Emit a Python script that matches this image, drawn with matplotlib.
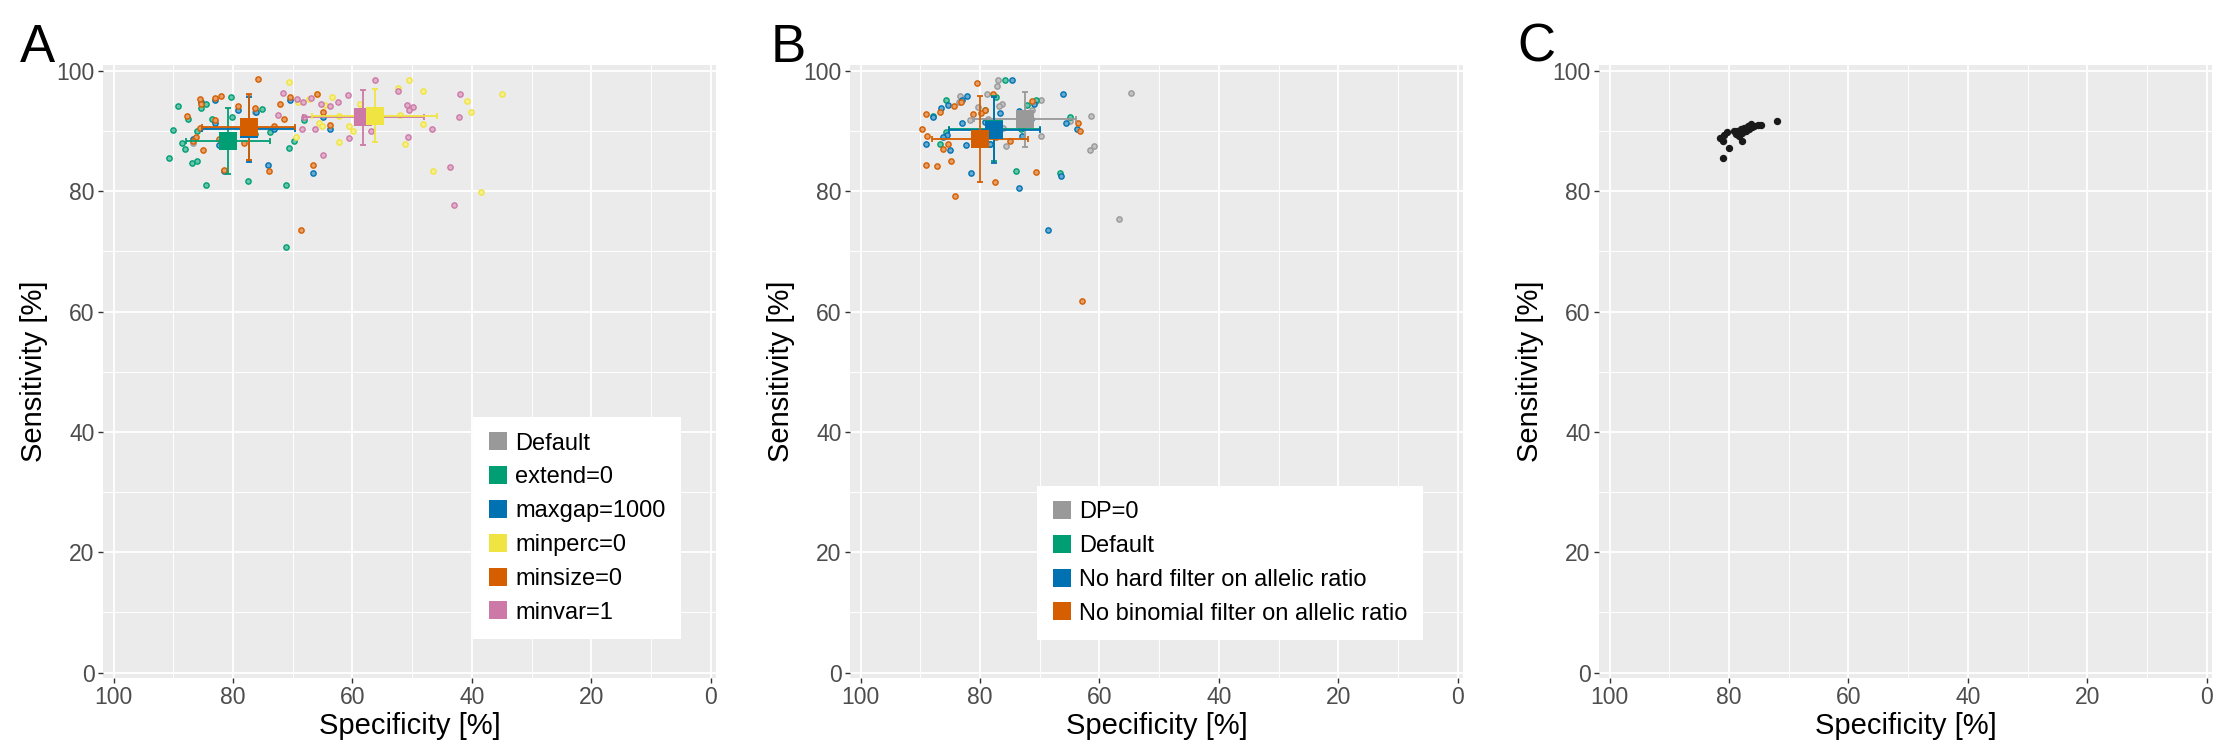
import matplotlib.pyplot as plt
from matplotlib.lines import Line2D
from matplotlib.colors import to_rgb

plt.rcParams["font.family"] = ["Liberation Sans", "DejaVu Sans"]

# ---- colours (Okabe-Ito style) ----
GREY = "#999999"
GREEN = "#009E73"
BLUE = "#0072B2"
YELLOW = "#F0E442"
ORANGE = "#D55E00"
PINK = "#CC79A7"

# ---- panel A: individual samples (specificity, sensitivity) ----
A_DEFAULT_SPEC = [86.8, 76.4]
A_DEFAULT_SENS = [88.0, 93.2]

A_EXTEND_SPEC = [89.3, 90.1, 90.7, 87.5, 88.1, 88.6, 86.9, 86.0, 86.0, 84.5, 85.4, 84.5, 83.6,
                 80.3, 80.2, 77.5, 77.4, 76.3, 75.1, 73.9, 71.2, 70.7, 69.8, 71.1, 68.2]
A_EXTEND_SENS = [94.2, 90.2, 85.6, 92.0, 87.1, 88.0, 84.7, 85.0, 90.0, 94.5, 93.9, 81.0, 92.1,
                 95.7, 92.3, 81.7, 90.5, 89.5, 93.7, 89.9, 81.0, 87.2, 88.4, 70.7, 91.8]

A_MAXGAP_SPEC = [83.1, 79.1, 76.2, 83.1, 86.8, 82.4, 81.5, 74.1, 66.6, 73.1, 70.5, 64.9, 63.8, 85.4]
A_MAXGAP_SENS = [95.2, 93.5, 93.2, 91.4, 88.7, 87.7, 83.3, 84.3, 83.0, 90.4, 95.1, 92.3, 90.4, 94.9]

A_MINPERC_SPEC = [70.6, 66.0, 63.5, 69.2, 67.3, 64.6, 58.8, 65.6, 65.1, 59.9, 60.6, 62.2, 62.2,
                  69.5, 58.0, 52.4, 50.6, 48.2, 52.0, 48.2, 51.2, 40.8, 40.2, 35.0, 46.5, 38.5]
A_MINPERC_SENS = [98.2, 96.2, 95.7, 94.9, 95.4, 94.4, 94.5, 91.4, 90.8, 90.0, 90.9, 92.6, 88.2,
                  89.0, 93.4, 97.1, 98.5, 96.7, 92.7, 91.2, 87.9, 95.0, 93.2, 96.2, 83.4, 79.9]

A_MINSIZE_SPEC = [75.8, 82.1, 83.1, 85.6, 85.4, 87.8, 83.1, 85.6, 86.3, 86.8, 85.0, 82.4, 81.5,
                  79.1, 76.3, 78.2, 73.1, 72.1, 71.5, 70.5, 66.0, 64.9, 63.8, 66.6, 74.0, 68.6]
A_MINSIZE_SENS = [98.6, 95.9, 95.5, 95.3, 94.5, 92.6, 91.8, 90.6, 89.1, 88.4, 86.9, 88.7, 83.6,
                  94.2, 93.8, 88.0, 90.9, 94.5, 92.0, 95.6, 96.2, 93.2, 91.1, 84.3, 83.4, 73.5]

A_MINVAR_SPEC = [71.6, 68.3, 69.3, 66.9, 68.4, 66.2, 72.5, 65.3, 63.7, 62.4, 60.8, 64.9, 60.6,
                 56.9, 56.2, 52.3, 50.8, 49.8, 50.5, 50.7, 46.6, 42.0, 42.2, 43.6, 43.0, 68.2]
A_MINVAR_SENS = [96.3, 94.9, 95.3, 95.5, 90.3, 90.3, 92.7, 94.5, 94.2, 94.8, 96.0, 86.1, 88.9,
                 90.0, 98.5, 96.6, 94.4, 94.0, 93.6, 89.0, 90.4, 96.2, 92.3, 84.0, 77.7, 92.4]

# panel A: group means and spread
A_GROUPS = ["Default", "extend=0", "maxgap=1000", "minperc=0", "minsize=0", "minvar=1"]
A_COLORS = [GREY, GREEN, BLUE, YELLOW, ORANGE, PINK]
A_MEAN_SPEC = [77.4, 80.9, 77.4, 56.3, 77.4, 58.2]
A_SD_SPEC = [7.8, 7.05, 7.8, 10.5, 7.8, 10.1]
A_MEAN_SENS = [90.6, 88.3, 90.3, 92.6, 90.7, 92.3]
A_SD_SENS = [5.4, 5.5, 5.4, 4.4, 5.45, 4.55]

# ---- panel B ----
B_DP0_SPEC = [77.0, 77.2, 78.8, 76.4, 76.9, 80.4, 83.3, 83.5, 81.7, 78.6, 77.8, 76.1, 79.6,
              75.7, 69.8, 70.7, 69.8, 65.0, 61.5, 61.6, 60.9, 54.7, 56.7, 71.3]
B_DP0_SENS = [98.5, 97.5, 96.2, 94.6, 94.2, 94.1, 95.8, 94.9, 91.9, 92.1, 91.1, 90.5, 88.8,
              87.6, 95.1, 95.0, 89.2, 91.7, 92.6, 86.9, 87.6, 96.3, 75.4, 93.5]

B_DEFAULT_SPEC = [75.9, 85.7, 87.9, 85.7, 86.8, 79.2, 77.4, 72.1, 70.7, 73.2, 64.9, 74.0, 66.6, 78.3]
B_DEFAULT_SENS = [98.5, 95.2, 92.6, 89.9, 87.9, 93.5, 95.7, 94.4, 95.1, 90.4, 92.3, 83.3, 83.0, 87.9]

B_HARD_SPEC = [74.7, 82.2, 83.1, 85.4, 86.5, 87.9, 83.1, 85.6, 86.3, 89.1, 85.1, 82.3, 79.2,
               76.6, 78.3, 81.6, 73.5, 71.5, 73.0, 70.9, 66.1, 65.6, 63.8, 66.5, 73.5, 68.6]
B_HARD_SENS = [98.5, 95.8, 95.2, 94.3, 93.9, 92.3, 91.3, 89.4, 89.0, 87.9, 86.8, 87.7, 91.6,
               93.1, 87.9, 83.1, 93.3, 92.0, 89.2, 94.6, 96.2, 91.4, 90.3, 82.6, 80.6, 73.5]

B_BINOM_SPEC = [80.6, 83.2, 84.4, 86.7, 89.1, 89.8, 88.9, 86.3, 85.3, 89.0, 87.3, 84.9, 81.2,
                79.9, 79.2, 77.8, 77.4, 75.0, 71.3, 70.6, 77.5, 84.2, 63.6, 63.3, 63.0]
B_BINOM_SENS = [98.0, 94.8, 94.2, 93.2, 92.8, 90.4, 89.2, 87.1, 87.8, 84.4, 84.2, 85.0, 92.9,
                93.1, 93.5, 96.2, 89.0, 88.3, 95.0, 83.2, 81.5, 79.2, 91.3, 90.1, 61.8]

B_GROUPS = ["DP=0", "Default", "No hard filter on allelic ratio", "No binomial filter on allelic ratio"]
B_COLORS = [GREY, GREEN, BLUE, ORANGE]
B_MEAN_SPEC = [72.5, 77.6, 77.6, 80.0]
B_SD_SPEC = [8.6, 7.65, 7.65, 8.0]
B_MEAN_SENS = [92.0, 90.4, 90.2, 88.7]
B_SD_SENS = [4.55, 5.4, 5.55, 7.2]

# ---- panel C ----
C_SPEC = [71.9, 74.7, 76.4, 76.9, 77.5, 78.0, 78.6, 78.9, 78.3, 77.8, 77.2, 76.6, 75.8, 77.8,
          78.3, 80.3, 80.8, 81.5, 81.0, 80.0, 81.1, 79.2, 76.1, 75.2]
C_SENS = [91.7, 91.0, 91.2, 90.8, 90.6, 90.3, 90.0, 89.6, 89.4, 89.7, 90.1, 90.4, 90.9, 88.4,
          89.2, 89.9, 89.4, 88.8, 88.3, 87.2, 85.6, 90.0, 90.7, 91.1]

W, H = 2219, 746
fig = plt.figure(figsize=(W / 100, H / 100), dpi=100)


def lighter(c, f=0.4):
    r, g, b = to_rgb(c)
    return (r + (1 - r) * f, g + (1 - g) * f, b + (1 - b) * f)


def make_axes(left_px, letter, letter_x):
    ax = fig.add_axes([left_px / W, (H - 678) / H, 613 / W, 613 / H])
    ax.set_facecolor("#EBEBEB")
    ax.set_xlim(101.8, -0.9)
    ax.set_ylim(-0.9, 101.0)
    ax.set_xticks(range(0, 101, 20))
    ax.set_yticks(range(0, 101, 20))
    ax.set_xticks(range(10, 100, 20), minor=True)
    ax.set_yticks(range(10, 100, 20), minor=True)
    ax.grid(which="major", color="white", linewidth=1.3)
    ax.grid(which="minor", color="white", linewidth=0.7)
    ax.set_axisbelow(True)
    for s in ax.spines.values():
        s.set_visible(False)
    ax.tick_params(which="major", length=3.6, width=1.0, color="#333333",
                   labelsize=16.5, labelcolor="#4D4D4D", pad=2.5)
    ax.tick_params(which="minor", length=0)
    ax.set_xlabel("Specificity [%]", fontsize=21, labelpad=2)
    ax.set_ylabel("Sensitivity [%]", fontsize=21, labelpad=6)
    fig.text(letter_x / W, 1 - 62 / H, letter, fontsize=38, ha="left", va="baseline")
    return ax


def points(ax, xs, ys, color):
    ax.plot(xs, ys, "o", ls="none", markersize=3.8, markeredgewidth=1.0,
            markeredgecolor=color, markerfacecolor=lighter(color), zorder=3)


def means(ax, order, mx, sx, my, sy, colors):
    for i in order:
        ax.errorbar(mx[i], my[i], xerr=sx[i], yerr=sy[i], fmt="none", ecolor=colors[i],
                    elinewidth=1.3, capsize=2.3, capthick=1.3, zorder=4)
        ax.plot(mx[i], my[i], "s", markersize=13.5, color=colors[i], markeredgewidth=0, zorder=5)


def legend(ax, groups, colors, anchor):
    handles = [Line2D([], [], marker="s", ls="none", markersize=13.5, color=c,
                      markeredgewidth=0) for c in colors]
    leg = ax.legend(handles, groups, loc="lower right", bbox_to_anchor=anchor,
                    borderaxespad=0, frameon=True, fancybox=False, fontsize=17,
                    handlelength=0.8, handletextpad=0.35, labelspacing=0.5,
                    borderpad=0.65)
    leg.get_frame().set_facecolor("white")
    leg.get_frame().set_edgecolor("none")
    leg.get_frame().set_alpha(1)
    leg.set_zorder(10)


# Panel A
axA = make_axes(103, "A", 20)
points(axA, A_DEFAULT_SPEC, A_DEFAULT_SENS, GREY)
points(axA, A_EXTEND_SPEC, A_EXTEND_SENS, GREEN)
points(axA, A_MAXGAP_SPEC, A_MAXGAP_SENS, BLUE)
points(axA, A_MINPERC_SPEC, A_MINPERC_SENS, YELLOW)
points(axA, A_MINSIZE_SPEC, A_MINSIZE_SENS, ORANGE)
points(axA, A_MINVAR_SPEC, A_MINVAR_SENS, PINK)
means(axA, [0, 1, 2, 5, 3, 4], A_MEAN_SPEC, A_SD_SPEC, A_MEAN_SENS, A_SD_SENS, A_COLORS)
legend(axA, A_GROUPS, A_COLORS, ((681 - 103) / 613, (678 - 639) / 613))

# Panel B
axB = make_axes(850, "B", 771)
points(axB, B_DP0_SPEC, B_DP0_SENS, GREY)
points(axB, B_DEFAULT_SPEC, B_DEFAULT_SENS, GREEN)
points(axB, B_HARD_SPEC, B_HARD_SENS, BLUE)
points(axB, B_BINOM_SPEC, B_BINOM_SENS, ORANGE)
means(axB, [0, 1, 2, 3], B_MEAN_SPEC, B_SD_SPEC, B_MEAN_SENS, B_SD_SENS, B_COLORS)
legend(axB, B_GROUPS, B_COLORS, ((1423 - 850) / 613, (678 - 640) / 613))

# Panel C
axC = make_axes(1599, "C", 1517)
axC.plot(C_SPEC, C_SENS, "o", ls="none", markersize=4.3, color="#1A1A1A", zorder=3)

fig.savefig("out.png", dpi=100)
